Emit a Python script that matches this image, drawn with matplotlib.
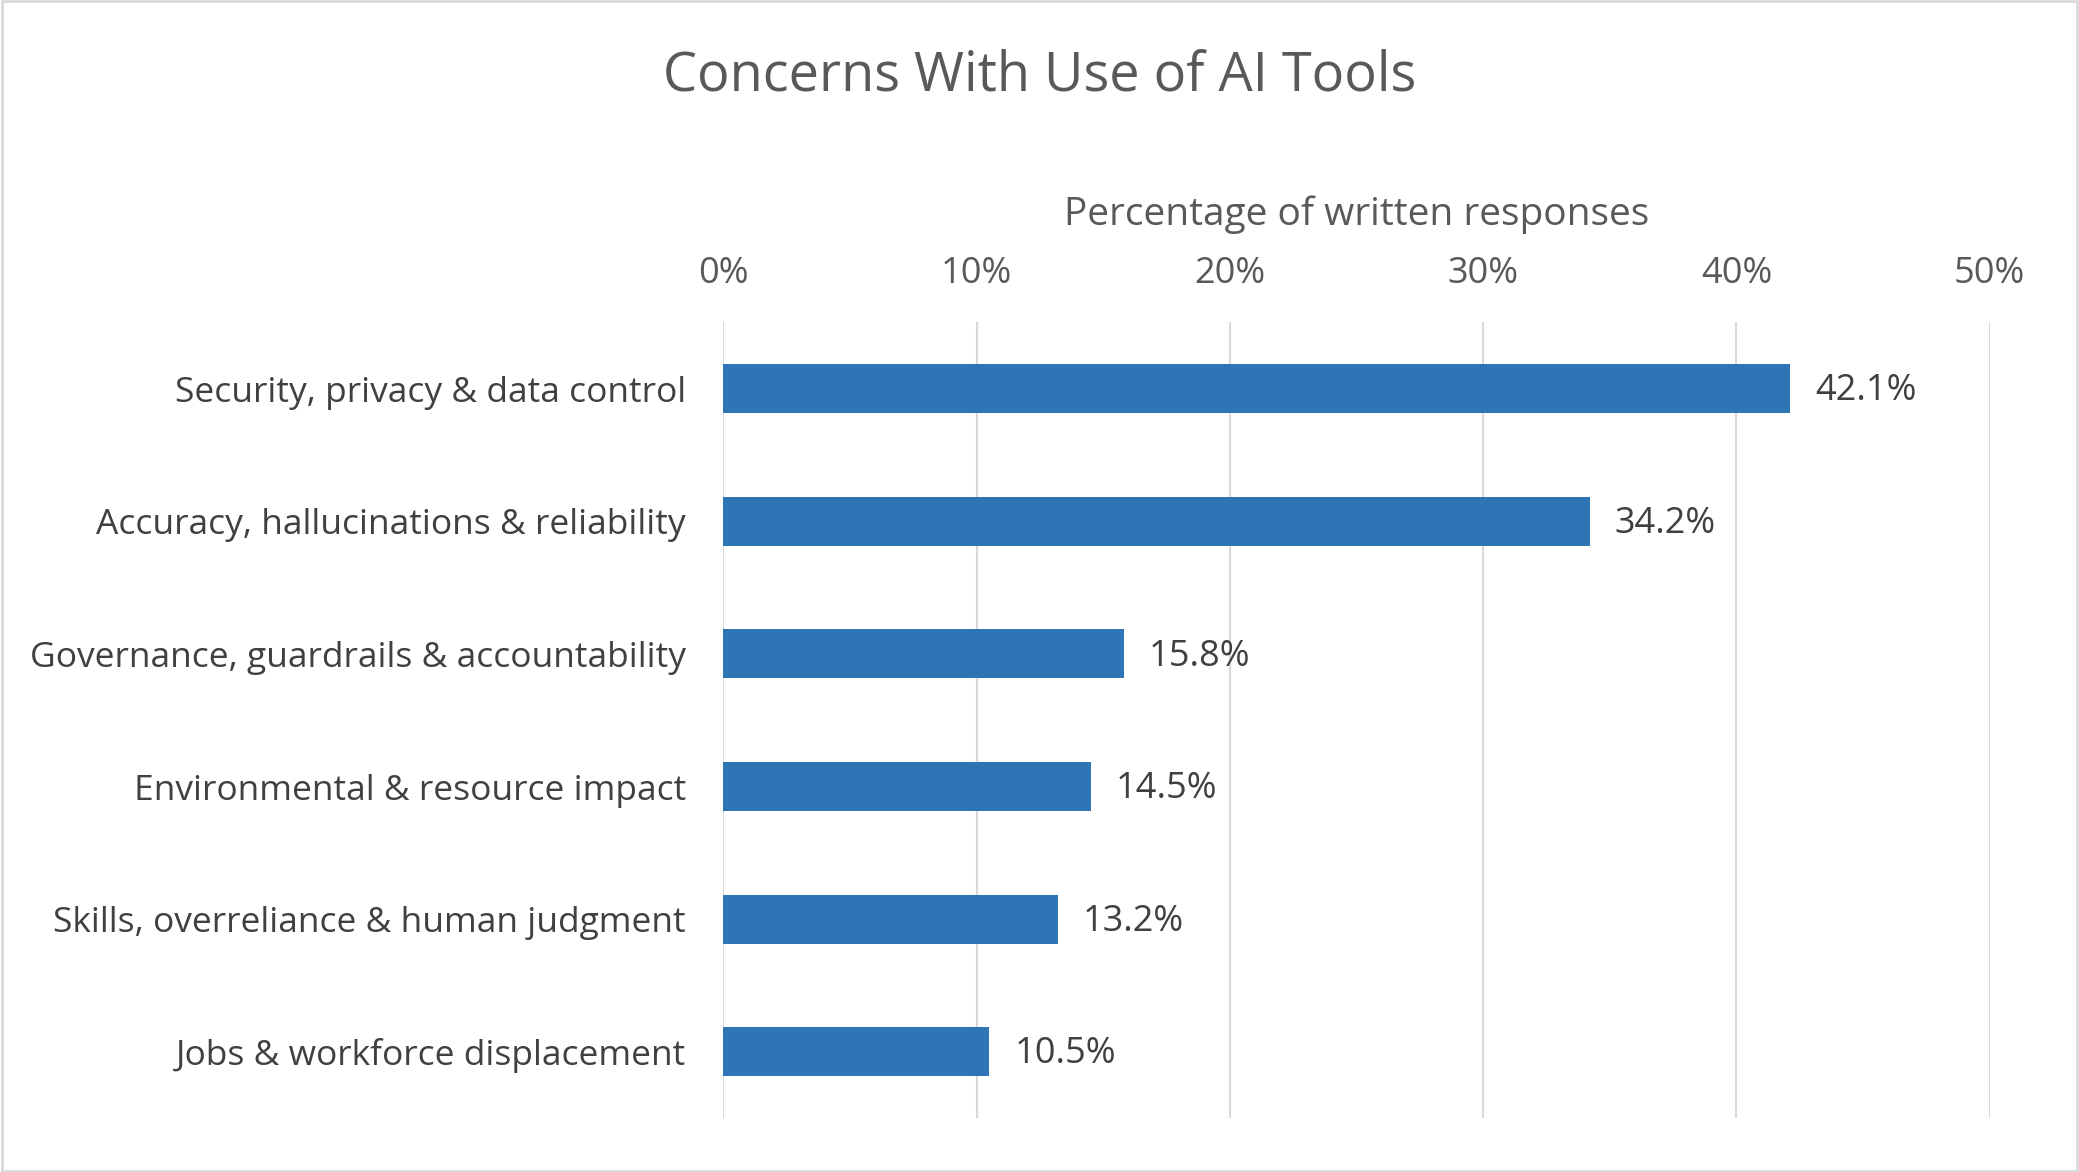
import matplotlib
matplotlib.use("Agg")
import matplotlib.pyplot as plt
from matplotlib.patches import Rectangle

categories = ["Security, privacy & data control", "Accuracy, hallucinations & reliability",
              "Governance, guardrails & accountability", "Environmental & resource impact",
              "Skills, overreliance & human judgment", "Jobs & workforce displacement"]
values = [42.1, 34.2, 15.8, 14.5, 13.2, 10.5]
ticks = [0, 10, 20, 30, 40, 50]

plt.rcParams['font.family'] = ['Open Sans', 'DejaVu Sans']
fig = plt.figure(figsize=(20.79, 11.72), dpi=100)
ax = fig.add_axes([0.348, 0.046, 0.609, 0.679])
y = list(range(len(categories)))
ax.barh(y, values, height=0.37, color="#2E75B6", zorder=3)
for yi, v in zip(y, values):
    ax.text(v + 1.0, yi + 0.02, f"{v}%", va="center", ha="left", fontsize=26, color="#404040")
ax.set_ylim(len(categories) - 0.5, -0.5)
ax.set_xlim(0, 50)
ax.set_xticks(ticks)
ax.set_xticklabels([f"{t}%" for t in ticks], fontsize=26, color="#595959")
ax.xaxis.tick_top()
ax.xaxis.set_label_position("top")
ax.set_xlabel("Percentage of written responses", fontsize=28, color="#595959", labelpad=22)
ax.set_yticks(y)
ax.set_yticklabels(categories, fontsize=25.5, color="#404040")
ax.tick_params(axis="y", length=0, pad=27)
ax.tick_params(axis="x", length=0, pad=22)
ax.grid(axis="x", color="#D9D9D9", linewidth=1.5, zorder=0)
for s in ax.spines.values():
    s.set_visible(False)
fig.text(0.5, 0.935, "Concerns With Use of AI Tools", ha="center", va="center", fontsize=39, color="#595959")
fig.patches.append(Rectangle((0.001, 0.001), 0.998, 0.998, transform=fig.transFigure,
                             fill=False, edgecolor="#D9D9D9", linewidth=2))
fig.savefig("out.png", dpi=100)
